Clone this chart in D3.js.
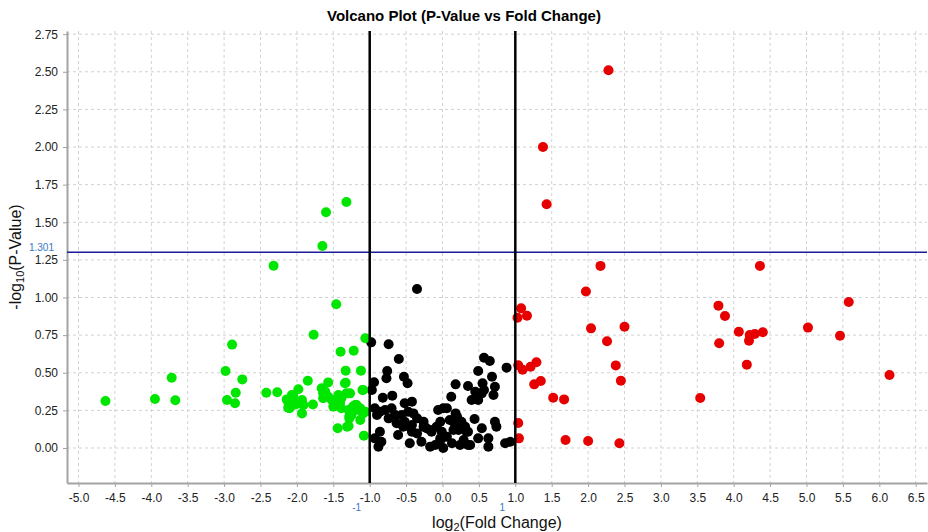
<!DOCTYPE html>
<html>
<head>
<meta charset="utf-8">
<script src="https://cdn.jsdelivr.net/npm/d3@7"></script>
<style>
  body { margin: 0; background: #fff; }
  text { font-family: "Liberation Sans", Arial, sans-serif; }
</style>
</head>
<body>
<script>
// [log2 fold change, -log10 p-value]
const upRegulated = [
  [2.28, 2.51], [1.38, 2.00], [1.43, 1.62], [2.17, 1.21], [4.36, 1.21], [1.97, 1.04],
  [5.58, 0.97], [3.79, 0.946], [3.88, 0.877], [1.08, 0.928], [1.03, 0.866], [1.16, 0.879],
  [2.04, 0.795], [2.50, 0.806], [5.02, 0.80], [4.07, 0.773], [4.22, 0.751], [4.29, 0.757],
  [4.40, 0.769], [4.21, 0.713], [5.46, 0.746], [2.26, 0.709], [3.80, 0.696], [2.38, 0.549],
  [4.18, 0.554], [1.04, 0.55], [1.10, 0.52], [1.21, 0.54], [1.29, 0.57], [6.14, 0.485],
  [2.45, 0.447], [1.26, 0.423], [1.35, 0.445], [1.52, 0.334], [1.67, 0.323], [3.54, 0.332],
  [1.04, 0.166], [1.05, 0.064], [1.69, 0.053], [2.00, 0.047], [2.43, 0.031]
];

const downRegulated = [
  [-4.63, 0.312], [-3.95, 0.326], [-3.72, 0.467], [-3.67, 0.317], [-2.98, 0.512], [-2.89, 0.687],
  [-2.75, 0.456], [-2.84, 0.367], [-2.96, 0.319], [-2.85, 0.297], [-2.42, 0.367], [-2.27, 0.37],
  [-2.32, 1.211], [-1.65, 1.342], [-1.60, 1.566], [-1.32, 1.635], [-1.46, 0.955], [-1.77, 0.753],
  [-1.06, 0.729], [-1.40, 0.64], [-1.22, 0.647], [-1.85, 0.447], [-1.33, 0.514], [-1.12, 0.514],
  [-1.57, 0.436], [-1.33, 0.434], [-1.10, 0.385], [-2.14, 0.323], [-2.05, 0.346], [-1.98, 0.39],
  [-1.93, 0.319], [-2.12, 0.268], [-2.00, 0.292], [-1.93, 0.23], [-1.78, 0.289], [-1.66, 0.397],
  [-1.64, 0.363], [-1.61, 0.374], [-1.64, 0.33], [-1.57, 0.341], [-1.52, 0.319], [-1.50, 0.275],
  [-1.41, 0.297], [-1.32, 0.363], [-1.29, 0.252], [-1.23, 0.275], [-1.16, 0.252], [-1.06, 0.241],
  [-1.28, 0.213], [-1.29, 0.146], [-1.44, 0.131], [-1.08, 0.082], [-1.45, 0.319], [-1.39, 0.33],
  [-2.07, 0.352], [-2.12, 0.308], [-2.05, 0.286], [-1.91, 0.286], [-2.10, 0.264], [-1.48, 0.308],
  [-1.43, 0.352], [-1.41, 0.308], [-1.39, 0.264], [-1.34, 0.43], [-1.27, 0.363], [-1.18, 0.286],
  [-1.13, 0.264], [-1.09, 0.23], [-1.25, 0.219], [-1.28, 0.197], [-1.13, 0.186], [-1.31, 0.142],
  [-1.09, 0.385], [-1.20, 0.286]
];

const notSignificant = [
  [-0.35, 1.056], [-0.98, 0.702], [-0.74, 0.689], [-0.60, 0.591], [-0.76, 0.512], [-0.77, 0.463],
  [-0.94, 0.437], [-0.97, 0.385], [-0.53, 0.474], [-0.48, 0.43], [-0.82, 0.334], [-0.69, 0.348],
  [-0.52, 0.297], [-0.42, 0.308], [-0.93, 0.264], [-0.86, 0.241], [-0.90, 0.219], [-0.79, 0.252],
  [-0.70, 0.264], [-0.65, 0.219], [-0.74, 0.197], [-0.63, 0.164], [-0.56, 0.219], [-0.47, 0.241],
  [-0.40, 0.23], [-0.35, 0.197], [-0.42, 0.153], [-0.52, 0.175], [-0.26, 0.175], [-0.22, 0.131],
  [-0.15, 0.108], [-0.06, 0.252], [0.01, 0.264], [-0.08, 0.142], [-0.01, 0.108], [-0.03, 0.064],
  [-0.10, 0.02], [0.01, 0.0], [-0.17, 0.009], [-0.29, 0.042], [-0.45, 0.031], [-0.61, 0.086],
  [-0.42, 0.108], [-0.86, 0.108], [-0.93, 0.064], [-0.84, 0.042], [-0.88, 0.009], [-0.26, 0.142],
  [-0.17, 0.12], [-0.35, 0.097], [-0.54, 0.142], [-0.45, 0.142],
  [0.57, 0.60], [0.65, 0.578], [0.88, 0.534], [0.49, 0.512], [0.68, 0.474], [0.18, 0.423],
  [0.35, 0.412], [0.55, 0.43], [0.72, 0.407], [0.12, 0.341], [0.45, 0.374], [0.54, 0.363],
  [0.49, 0.319], [0.40, 0.319], [0.57, 0.385], [0.70, 0.352], [0.06, 0.264], [0.18, 0.23],
  [0.15, 0.175], [0.26, 0.175], [0.31, 0.142], [0.22, 0.12], [0.35, 0.108], [0.44, 0.193],
  [0.54, 0.131], [0.72, 0.175], [0.74, 0.142], [0.49, 0.064], [0.63, 0.064], [0.63, 0.009],
  [0.35, 0.02], [0.24, 0.02], [0.13, 0.031], [-0.01, 0.064], [-0.03, 0.175], [0.86, 0.031],
  [0.93, 0.042], [0.10, 0.186], [0.20, 0.208], [0.15, 0.12], [0.24, 0.142], [0.33, 0.108],
  [0.06, 0.075], [-0.03, 0.053], [0.29, 0.053], [0.38, 0.02]
];

const xTicks = d3.range(-5, 6.51, 0.5);
const yTicks = d3.range(0, 2.76, 0.25);
const foldThresholds = [-1, 1];
const pThreshold = 1.301;

let width = 928;
let height = 532;
let plot = {left: 67, right: 927, top: 31, bottom: 483};

let svg = d3.select("body").append("svg")
    .attr("width", width)
    .attr("height", height)
    .style("background-color", "white");

let x = d3.scaleLinear().domain([-5.158, 6.655]).range([plot.left, plot.right]);
let y = d3.scaleLinear().domain([-0.2326, 2.771]).range([plot.bottom, plot.top]);

// dashed grid
svg.append("g").selectAll("line")
    .data(xTicks)
    .enter().append("line")
    .attr("x1", d => x(d)).attr("x2", d => x(d))
    .attr("y1", plot.top).attr("y2", plot.bottom)
    .attr("stroke", "#d2d2d2").attr("stroke-dasharray", "3,3");

svg.append("g").selectAll("line")
    .data(yTicks)
    .enter().append("line")
    .attr("x1", plot.left).attr("x2", plot.right)
    .attr("y1", d => y(d)).attr("y2", d => y(d))
    .attr("stroke", "#d2d2d2").attr("stroke-dasharray", "3,3");

// axes
let xAxis = svg.append("g")
    .attr("transform", "translate(0," + plot.bottom + ")")
    .call(d3.axisBottom(x).tickValues(xTicks).tickFormat(d => d.toFixed(1)).tickSize(4).tickPadding(6).tickSizeOuter(0));

let yAxis = svg.append("g")
    .attr("transform", "translate(" + plot.left + ",0)")
    .call(d3.axisLeft(y).tickValues(yTicks).tickFormat(d => d.toFixed(2)).tickSize(4).tickPadding(5).tickSizeOuter(0));

[xAxis, yAxis].forEach(function (g) {
    g.select(".domain").attr("stroke", "#a3a3a3").attr("stroke-width", 2);
    g.selectAll(".tick line").attr("stroke", "#a3a3a3");
    g.selectAll(".tick text").attr("fill", "#222").style("font-size", "12px")
        .style("font-family", "'Liberation Sans', Arial, sans-serif");
});

// points
function drawPoints(data, color) {
    svg.append("g").selectAll("circle")
        .data(data)
        .enter().append("circle")
        .attr("cx", d => x(d[0]))
        .attr("cy", d => y(d[1]))
        .attr("r", 5)
        .attr("fill", color);
}
drawPoints(notSignificant, "#000000");
drawPoints(downRegulated, "#00e600");
drawPoints(upRegulated, "#e60000");

// thresholds
svg.append("line")
    .attr("x1", plot.left).attr("x2", plot.right)
    .attr("y1", y(pThreshold)).attr("y2", y(pThreshold))
    .attr("stroke", "#1c1c9a").attr("stroke-width", 1.5);

svg.append("g").selectAll("line")
    .data(foldThresholds)
    .enter().append("line")
    .attr("x1", d => x(d)).attr("x2", d => x(d))
    .attr("y1", plot.top).attr("y2", plot.bottom)
    .attr("stroke", "#000").attr("stroke-width", 2.5);

svg.append("g").selectAll("text")
    .data(foldThresholds)
    .enter().append("text")
    .attr("x", d => x(d) - 13)
    .attr("y", 511)
    .attr("text-anchor", "middle")
    .attr("fill", "#3a78c0")
    .style("font-size", "10px")
    .text(d => d);

svg.append("text")
    .attr("x", 54)
    .attr("y", y(pThreshold) - 1.5)
    .attr("text-anchor", "end")
    .attr("fill", "#3a78c0")
    .style("font-size", "10px")
    .text(pThreshold);

// titles
svg.append("text")
    .attr("x", 464).attr("y", 21)
    .attr("text-anchor", "middle")
    .style("font-size", "15px").style("font-weight", "bold")
    .text("Volcano Plot (P-Value vs Fold Change)");

let xTitle = svg.append("text")
    .attr("x", (plot.left + plot.right) / 2).attr("y", 528)
    .attr("text-anchor", "middle")
    .style("font-size", "16px").attr("fill", "#111");
xTitle.append("tspan").text("log");
xTitle.append("tspan").attr("dy", 3).style("font-size", "11px").text("2");
xTitle.append("tspan").attr("dy", -3).text("(Fold Change)");

let yTitle = svg.append("text")
    .attr("transform", "translate(21," + ((plot.top + plot.bottom) / 2) + ") rotate(-90)")
    .attr("text-anchor", "middle")
    .style("font-size", "16px").attr("fill", "#111");
yTitle.append("tspan").text("-log");
yTitle.append("tspan").attr("dy", 3).style("font-size", "11px").text("10");
yTitle.append("tspan").attr("dy", -3).text("(P-Value)");
</script>
</body>
</html>
